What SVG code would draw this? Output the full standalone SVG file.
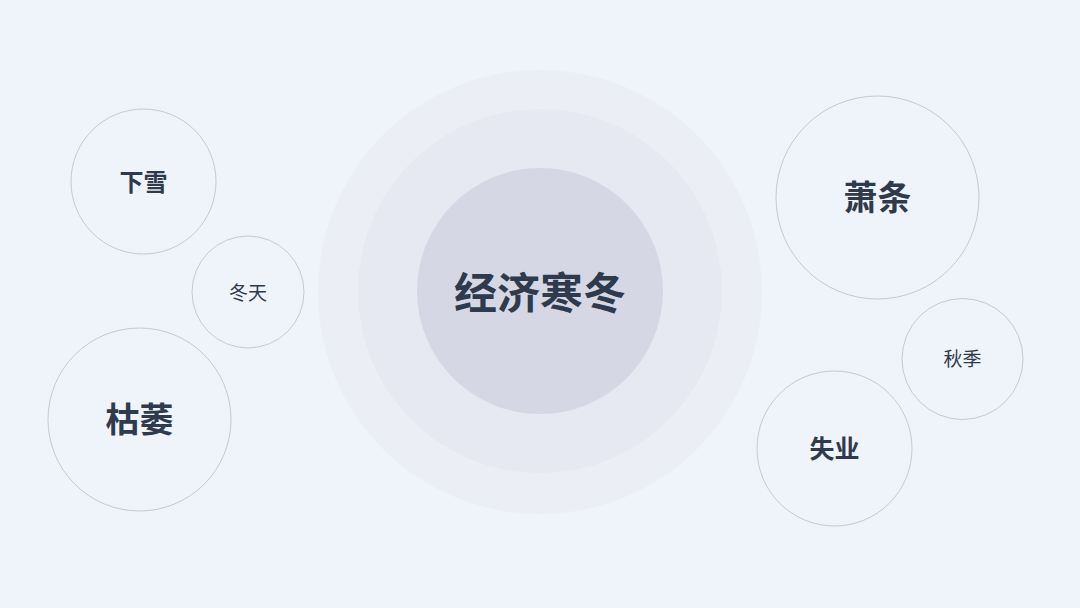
<svg xmlns="http://www.w3.org/2000/svg" width="1080" height="608" viewBox="0 0 1080 608">
<style>
.bubble{fill:none;stroke:#c6c9d1;stroke-width:1}
.lbl{font-family:"Noto Sans CJK SC","Noto Sans",sans-serif;font-weight:700;fill:#2f3a4d;text-anchor:middle;dominant-baseline:central}
.sm{font-weight:400}
</style>
<rect width="1080" height="608" fill="#eff3fa"/>
<g id="center">
<circle cx="540" cy="292" r="222" fill="#ebeef5"/>
<circle cx="540" cy="291" r="182" fill="#e6e9f1"/>
<circle cx="540" cy="291" r="123" fill="#d5d8e4"/>
<text class="lbl" x="540" y="289.5" font-size="43">经济寒冬</text>
</g>
<g id="xiaxue">
<circle class="bubble" cx="143.5" cy="181.5" r="72.5"/>
<text class="lbl" x="143.5" y="180" font-size="24">下雪</text>
</g>
<g id="dongtian">
<circle class="bubble" cx="248" cy="292" r="56"/>
<text class="lbl sm" x="248" y="291" font-size="19">冬天</text>
</g>
<g id="kuwei">
<circle class="bubble" cx="139.5" cy="419.5" r="91.5"/>
<text class="lbl" x="139.5" y="417.5" font-size="34">枯萎</text>
</g>
<g id="xiaotiao">
<circle class="bubble" cx="877.5" cy="197.5" r="101.5"/>
<text class="lbl" x="877.5" y="195.5" font-size="34">萧条</text>
</g>
<g id="qiuji">
<circle class="bubble" cx="962.5" cy="359" r="60.5"/>
<text class="lbl sm" x="962.5" y="357.5" font-size="19">秋季</text>
</g>
<g id="shiye">
<circle class="bubble" cx="834.5" cy="448.5" r="77.5"/>
<text class="lbl" x="834.5" y="446.5" font-size="25">失业</text>
</g>
<g id="connectors"></g>
</svg>
